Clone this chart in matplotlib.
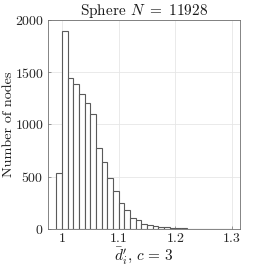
import numpy as np
import matplotlib
matplotlib.use("Agg")
import matplotlib.pyplot as plt

plt.rcParams['font.family'] = 'cmr10'
plt.rcParams['mathtext.fontset'] = 'cm'
plt.rcParams['axes.formatter.use_mathtext'] = True

# histogram data
bin_start = 0.99
bin_width = 0.01
counts = [540, 1895, 1442, 1385, 1292, 1203, 1098, 772, 638, 485, 364, 252,
          182, 102, 86, 48, 38, 29, 22, 16, 12, 8, 6, 4, 3, 2, 2, 1, 1, 1, 1]
xticks = [1, 1.1, 1.2, 1.3]
xtick_labels = ["1", "1.1", "1.2", "1.3"]
yticks = [0, 500, 1000, 1500, 2000]

edges = bin_start + bin_width * np.arange(len(counts))

fig = plt.figure(figsize=(2.66, 2.66), dpi=100)
ax = fig.add_axes([0.180, 0.139, 0.722, 0.786])
ax.bar(edges, counts, width=bin_width, align='edge', facecolor='white',
       edgecolor='#5a5a5a', linewidth=0.8, zorder=3)
ax.set_xlim(0.975, 1.314)
ax.set_ylim(0, 2000)
ax.set_xticks(xticks)
ax.set_xticklabels(xtick_labels)
ax.set_yticks(yticks)
ax.grid(True, color='#e6e6e6', linewidth=0.6, zorder=0)
for s in ax.spines.values():
    s.set_color('#707070')
    s.set_linewidth(0.6)
ax.tick_params(direction='in', length=2.5, width=0.5, color='#707070',
               labelsize=10, labelcolor='#262626', pad=3)
ax.set_title(r"Sphere $N\ =\ 11928$", fontsize=11, color='#1a1a1a', pad=3)
ax.set_xlabel(r"$\bar{d}_i',\, c\,=\,3$", fontsize=11, color='#1a1a1a', labelpad=0)
ax.set_ylabel("Number of nodes", fontsize=10.2, color='#1a1a1a')
ax.yaxis.set_label_coords(-0.17, 0.5)
fig.savefig("out.png", dpi=100)
